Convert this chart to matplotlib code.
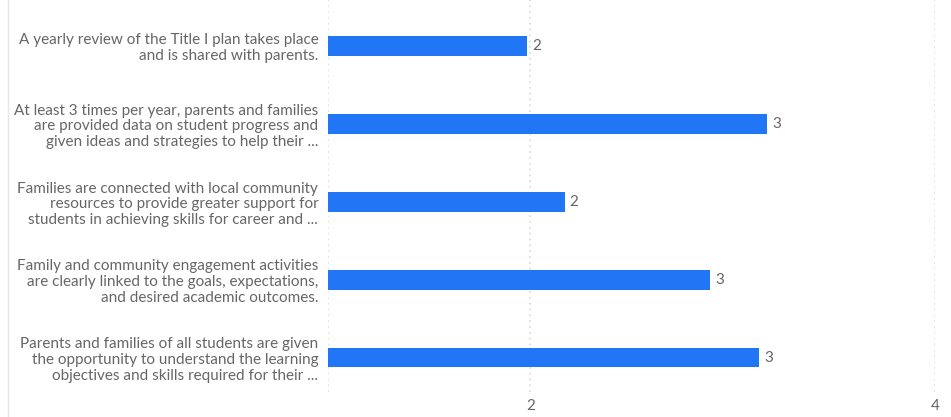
import matplotlib.pyplot as plt
from matplotlib.lines import Line2D

plt.rcParams['font.family'] = ['Lato', 'DejaVu Sans']

labels = [
    "A yearly review of the Title I plan takes place\nand is shared with parents.",
    "At least 3 times per year, parents and families\nare provided data on student progress and\ngiven ideas and strategies to help their ...",
    "Families are connected with local community\nresources to provide greater support for\nstudents in achieving skills for career and ...",
    "Family and community engagement activities\nare clearly linked to the goals, expectations,\nand desired academic outcomes.",
    "Parents and families of all students are given\nthe opportunity to understand the learning\nobjectives and skills required for their ...",
]
values = [1.985, 3.17, 2.17, 2.89, 3.13]
value_labels = ["2", "3", "2", "3", "3"]
xticks = [2, 4]

fig = plt.figure(figsize=(9.51, 4.17), dpi=100)
ax = fig.add_axes([328/951, 25/417, (935-328)/951, 392/417])

y = range(len(labels))
ax.barh(y, [v - 1 for v in values], left=1, height=0.25, color='#2176f5', zorder=3)
for i, (v, t) in enumerate(zip(values, value_labels)):
    ax.text(v + 0.025, i, t, va='center', ha='left', fontsize=11, color='#666666')

ax.set_xlim(1, 4)
ax.set_ylim(4.44, -0.59)
ax.set_yticks(list(y))
ax.set_yticklabels(labels, fontsize=11, color='#666666', linespacing=1.15)
ax.set_xticks(xticks)
ax.set_xticklabels([str(t) for t in xticks], fontsize=11, color='#666666')
ax.tick_params(length=0, pad=5)
ax.tick_params(axis='y', pad=7)
for s in ax.spines.values():
    s.set_visible(False)
for gx in [1, 2, 4]:
    ax.axvline(gx, color='#d9d9d9', linestyle=(0, (1, 2.5)), linewidth=1.2, zorder=1)

fig.add_artist(Line2D([8/951, 8/951], [0, 1], color='#e6e6e6', linewidth=1))

fig.savefig('out.png', dpi=100)
